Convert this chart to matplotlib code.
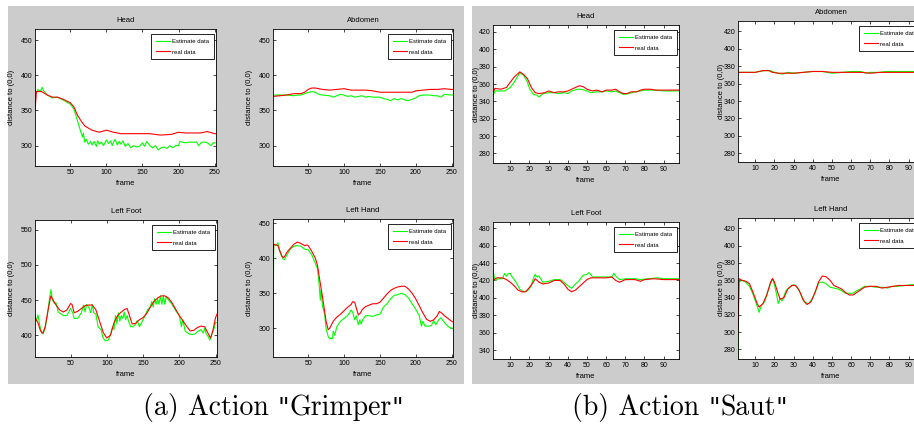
import matplotlib
matplotlib.use("Agg")
import matplotlib.pyplot as plt
from matplotlib.patches import Rectangle

plt.rcParams['font.family'] = ['Liberation Sans Narrow', 'Liberation Sans', 'DejaVu Sans']

# ---------------- Panel (a) Action "Grimper" ----------------
a_head_real_x = [1, 3, 10, 18, 25, 32, 40, 50, 55, 60, 65, 70, 80, 90, 100, 110, 120, 140, 160, 175, 190, 200, 210, 230, 240, 250, 252]
a_head_real_y = [350, 377, 377, 372, 369, 369, 366, 361, 355, 343, 335, 328, 322, 319, 322, 319, 317, 317, 317, 315, 316, 319, 318, 318, 320, 317, 317]
a_head_est_x = [1, 3, 5, 8, 11, 13, 18, 25, 32, 40, 50, 55, 60, 65, 67, 68, 70, 72, 75, 78, 80, 83, 86, 88, 90, 93, 96, 100, 103, 106, 108, 110, 112, 115, 118, 120, 123, 126, 130, 134, 138, 142, 146, 150, 153, 156, 160, 164, 168, 172, 176, 180, 184, 188, 192, 196, 200, 202, 205, 210, 215, 220, 225, 228, 232, 236, 240, 245, 248, 252]
a_head_est_y = [379, 376, 380, 377, 383, 378, 372, 368, 369, 365, 359, 352, 335, 318, 312, 318, 305, 309, 302, 306, 301, 306, 299, 307, 302, 305, 300, 308, 303, 307, 300, 305, 309, 301, 306, 302, 307, 299, 303, 297, 300, 298, 299, 304, 299, 306, 300, 297, 300, 294, 297, 298, 296, 300, 297, 300, 300, 306, 305, 304, 305, 305, 305, 300, 305, 305, 304, 300, 304, 304]

a_abd_real_x = [1, 20, 30, 40, 45, 50, 55, 60, 70, 80, 90, 100, 110, 120, 130, 140, 150, 160, 180, 195, 200, 210, 220, 230, 240, 250, 252]
a_abd_real_y = [370, 372, 374, 374, 376, 380, 382, 382, 380, 379, 380, 381, 379, 379, 379, 378, 376, 376, 376, 376, 378, 379, 380, 380, 381, 380, 380]
a_abd_est_x = [1, 10, 20, 30, 35, 40, 45, 55, 60, 65, 70, 80, 85, 90, 95, 100, 105, 110, 115, 120, 125, 130, 135, 140, 150, 155, 160, 165, 170, 175, 180, 185, 190, 195, 200, 205, 210, 220, 225, 230, 235, 240, 250, 252]
a_abd_est_y = [372, 372, 372, 371, 372, 372, 374, 377, 376, 373, 372, 371, 369, 371, 373, 372, 370, 371, 369, 370, 371, 369, 370, 369, 369, 367, 366, 364, 367, 365, 367, 365, 364, 366, 368, 371, 372, 372, 371, 371, 369, 373, 372, 372]

a_foot_real_x = [1, 5, 8, 10, 12, 15, 18, 22, 23, 27, 30, 35, 40, 45, 50, 52, 55, 60, 65, 70, 75, 80, 85, 90, 95, 100, 105, 110, 115, 120, 125, 128, 130, 135, 140, 145, 150, 155, 160, 165, 170, 175, 180, 185, 190, 195, 200, 210, 215, 220, 225, 230, 235, 240, 243, 246, 250, 252]
a_foot_real_y = [425, 418, 408, 404, 403, 412, 430, 452, 456, 448, 443, 436, 433, 436, 445, 444, 432, 434, 438, 442, 443, 443, 436, 420, 404, 396, 400, 418, 428, 433, 437, 438, 432, 416, 417, 422, 425, 431, 440, 448, 453, 456, 456, 453, 446, 437, 428, 413, 406, 407, 411, 413, 412, 402, 396, 405, 425, 430]
a_foot_est_x = [1, 3, 5, 8, 10, 12, 15, 18, 21, 23, 25, 28, 30, 33, 40, 45, 50, 53, 55, 60, 65, 68, 70, 72, 75, 78, 80, 82, 85, 88, 92, 95, 98, 102, 105, 108, 110, 112, 114, 116, 118, 120, 122, 124, 126, 128, 130, 133, 136, 140, 142, 145, 147, 150, 153, 156, 160, 162, 164, 166, 168, 170, 172, 174, 176, 178, 180, 182, 185, 190, 195, 200, 203, 205, 208, 213, 218, 222, 225, 230, 233, 235, 237, 240, 242, 244, 246, 248, 250, 252]
a_foot_est_y = [428, 420, 429, 412, 404, 402, 410, 428, 452, 465, 450, 445, 446, 433, 428, 428, 438, 432, 424, 424, 432, 443, 433, 444, 440, 432, 444, 432, 430, 412, 408, 396, 392, 393, 400, 412, 408, 428, 416, 432, 420, 428, 424, 433, 422, 428, 420, 412, 412, 416, 421, 412, 416, 422, 428, 436, 440, 448, 440, 452, 444, 452, 444, 456, 444, 456, 444, 455, 450, 444, 435, 428, 412, 422, 406, 402, 401, 402, 405, 408, 403, 410, 402, 398, 393, 398, 405, 410, 418, 418]

a_hand_real_x = [1, 2, 5, 8, 10, 13, 15, 17, 20, 25, 30, 35, 40, 45, 48, 50, 55, 60, 63, 66, 70, 75, 78, 80, 85, 90, 95, 100, 105, 110, 112, 115, 118, 120, 123, 125, 130, 135, 140, 145, 150, 155, 160, 165, 170, 175, 180, 185, 190, 195, 200, 205, 210, 215, 220, 225, 230, 233, 236, 240, 245, 250, 252]
a_hand_real_y = [385, 420, 419, 418, 412, 404, 401, 402, 408, 414, 420, 423, 421, 418, 419, 418, 410, 400, 390, 370, 345, 310, 298, 300, 310, 316, 320, 325, 330, 334, 338, 337, 326, 319, 322, 326, 331, 333, 335, 335, 337, 343, 349, 354, 357, 359, 360, 360, 356, 350, 342, 332, 322, 313, 310, 312, 318, 324, 322, 318, 314, 310, 309]
a_hand_est_x = [1, 2, 5, 8, 10, 13, 15, 17, 20, 25, 30, 35, 40, 45, 50, 55, 60, 63, 65, 67, 68, 70, 73, 75, 78, 80, 82, 84, 85, 87, 90, 95, 100, 105, 110, 112, 115, 117, 120, 122, 124, 126, 130, 135, 140, 145, 150, 155, 160, 165, 170, 175, 180, 185, 190, 195, 200, 205, 208, 210, 213, 218, 222, 225, 228, 232, 235, 238, 242, 246, 250, 252]
a_hand_est_y = [270, 420, 418, 422, 411, 403, 399, 398, 404, 413, 417, 418, 417, 413, 412, 405, 393, 385, 366, 340, 355, 332, 320, 300, 288, 285, 286, 285, 296, 290, 302, 310, 314, 318, 326, 323, 312, 318, 305, 312, 306, 312, 318, 318, 317, 319, 320, 330, 335, 342, 347, 348, 350, 348, 343, 335, 327, 318, 303, 310, 303, 303, 304, 311, 305, 312, 315, 311, 306, 302, 300, 300]

# ---------------- Panel (b) Action "Saut" ----------------
b_head_real_x = [1, 2, 5, 8, 10, 12, 15, 17, 19, 21, 23, 25, 28, 30, 33, 35, 38, 40, 43, 46, 48, 50, 53, 55, 58, 60, 63, 65, 67, 69, 71, 73, 76, 78, 80, 83, 86, 90, 95, 98]
b_head_real_y = [350, 355, 354, 356, 362, 368, 374, 371, 366, 356, 350, 349, 350, 352, 350, 351, 351, 352, 355, 358, 357, 354, 352, 353, 351, 353, 353, 354, 351, 349, 349, 351, 351, 353, 354, 354, 353, 353, 353, 353]
b_head_est_x = [1, 2, 4, 7, 10, 12, 15, 17, 19, 20, 22, 24, 25, 27, 30, 33, 35, 38, 40, 42, 45, 47, 50, 52, 55, 58, 60, 63, 65, 67, 69, 72, 75, 78, 80, 85, 90, 95, 98]
b_head_est_y = [346, 352, 352, 352, 356, 362, 373, 370, 362, 355, 348, 347, 345, 349, 350, 350, 349, 350, 349, 352, 354, 354, 352, 350, 351, 351, 352, 351, 352, 350, 348, 349, 351, 352, 353, 353, 352, 352, 352]

b_abd_real_x = [1, 5, 10, 12, 14, 17, 19, 22, 25, 30, 35, 40, 45, 50, 55, 60, 65, 70, 75, 80, 90, 98]
b_abd_real_y = [373, 373, 373, 374, 375, 375, 373, 372, 372, 372, 373, 374, 374, 373, 373, 373, 373, 372, 373, 373, 373, 373]
b_abd_est_x = [1, 10, 12, 15, 18, 20, 24, 27, 30, 35, 40, 45, 50, 55, 60, 65, 68, 70, 75, 78, 85, 90, 98]
b_abd_est_y = [373, 373, 374, 375, 375, 373, 371, 373, 372, 373, 374, 374, 372, 373, 374, 374, 372, 373, 373, 374, 374, 374, 374]

b_foot_real_x = [1, 3, 6, 8, 10, 12, 14, 16, 18, 20, 22, 23, 25, 27, 30, 33, 36, 38, 40, 42, 44, 46, 48, 50, 52, 55, 60, 63, 65, 67, 70, 75, 78, 80, 85, 90, 95, 98]
b_foot_real_y = [420, 423, 423, 421, 418, 414, 409, 407, 407, 412, 418, 422, 418, 416, 417, 420, 420, 416, 410, 407, 409, 413, 417, 421, 423, 423, 423, 424, 420, 418, 421, 421, 419, 421, 422, 421, 421, 421]
b_foot_est_x = [1, 2, 4, 6, 7, 8, 9, 10, 11, 13, 15, 17, 19, 21, 22, 23, 24, 25, 27, 30, 33, 36, 38, 40, 42, 44, 46, 48, 50, 51, 53, 55, 60, 63, 64, 65, 67, 70, 75, 78, 82, 87, 90, 95, 98]
b_foot_est_y = [432, 420, 422, 422, 428, 425, 428, 428, 424, 418, 410, 407, 408, 414, 422, 427, 424, 425, 418, 419, 421, 421, 418, 414, 411, 416, 420, 426, 427, 429, 424, 424, 424, 424, 428, 425, 421, 422, 422, 421, 422, 423, 422, 422, 422]

b_hand_real_x = [1, 1.5, 3, 5, 7, 9, 11, 12, 14, 16, 18, 19, 20, 22, 23, 25, 27, 29, 31, 33, 35, 37, 39, 41, 43, 45, 47, 49, 51, 53, 55, 57, 59, 61, 63, 65, 67, 70, 73, 76, 79, 82, 85, 90, 95, 98]
b_hand_real_y = [300, 362, 360, 359, 356, 345, 333, 329, 333, 343, 358, 362, 358, 344, 338, 340, 350, 354, 354, 348, 337, 332, 335, 345, 358, 365, 364, 360, 354, 352, 350, 346, 343, 343, 346, 349, 352, 353, 353, 351, 352, 353, 354, 354, 354, 354]
b_hand_est_x = [1, 1.5, 3, 5, 7, 9, 11, 12, 13, 15, 17, 19, 20, 21, 22, 23, 24, 26, 28, 30, 32, 34, 36, 38, 40, 42, 43, 45, 47, 49, 51, 53, 55, 57, 59, 61, 63, 65, 67, 70, 73, 76, 79, 81, 84, 88, 92, 95, 98]
b_hand_est_y = [270, 358, 360, 358, 353, 343, 330, 323, 330, 336, 350, 362, 355, 345, 333, 339, 336, 348, 352, 355, 352, 343, 334, 333, 340, 350, 357, 358, 356, 352, 351, 350, 348, 345, 345, 345, 348, 350, 353, 353, 352, 352, 351, 353, 353, 354, 355, 354, 354]

titles = ["Head", "Abdomen", "Left Foot", "Left Hand"]
series_labels = ["Estimate data", "real data"]
a_xticks = [50, 100, 150, 200, 250]
b_xticks = [10, 20, 30, 40, 50, 60, 70, 80, 90]

W, H = 914, 429
fig = plt.figure(figsize=(W / 100, H / 100), dpi=100)

def px_rect(x0, y0, x1, y1):
    return [x0 / W, (H - y1) / H, (x1 - x0) / W, (y1 - y0) / H]

# gray panels (behind the axes)
for x0, x1 in [(8, 464), (472, 914)]:
    fig.patches.append(Rectangle((x0 / W, (H - 384) / H), (x1 - x0) / W, (384 - 6) / H,
                                 transform=fig.transFigure, facecolor='#cccccc',
                                 edgecolor='none', zorder=-10))

panels = [
    ((35, 29, 216, 166), titles[0], a_head_est_x, a_head_est_y, a_head_real_x, a_head_real_y, (1, 252), (271, 466), a_xticks, [300, 350, 400, 450], 4),
    ((273, 29, 453, 166), titles[1], a_abd_est_x, a_abd_est_y, a_abd_real_x, a_abd_real_y, (1, 252), (271, 466), a_xticks, [300, 350, 400, 450], 4),
    ((35, 220, 217, 357), titles[2], a_foot_est_x, a_foot_est_y, a_foot_real_x, a_foot_real_y, (1, 252), (369, 564), a_xticks, [400, 450, 500, 550], 4),
    ((273, 219, 453, 357), titles[3], a_hand_est_x, a_hand_est_y, a_hand_real_x, a_hand_real_y, (1, 252), (259, 456), a_xticks, [300, 350, 400, 450], 4),
    ((493, 25, 679, 163), titles[0], b_head_est_x, b_head_est_y, b_head_real_x, b_head_real_y, (1, 98), (269, 428), b_xticks, list(range(280, 421, 20)), -1),
    ((738, 21, 924, 162), titles[1], b_abd_est_x, b_abd_est_y, b_abd_real_x, b_abd_real_y, (1, 98), (270, 432), b_xticks, list(range(280, 421, 20)), -1),
    ((493, 222, 679, 359), titles[2], b_foot_est_x, b_foot_est_y, b_foot_real_x, b_foot_real_y, (1, 98), (330, 487), b_xticks, list(range(340, 481, 20)), -1),
    ((738, 218, 924, 359), titles[3], b_hand_est_x, b_hand_est_y, b_hand_real_x, b_hand_real_y, (1, 98), (269, 432), b_xticks, list(range(280, 421, 20)), -1),
]

for rect, title, ex, ey, rx, ry, xl, yl, xt, yt, ylpad in panels:
    ax = fig.add_axes(px_rect(*rect))
    ax.plot(ex, ey, color='#00ff00', lw=0.8, label=series_labels[0])
    ax.plot(rx, ry, color='#ff0000', lw=0.8, label=series_labels[1])
    ax.set_xlim(*xl)
    ax.set_ylim(*yl)
    ax.set_xticks(xt)
    ax.set_yticks(yt)
    ax.tick_params(direction='in', length=2.5, width=0.5, labelsize=5, pad=2,
                   top=True, right=True)
    for s in ax.spines.values():
        s.set_linewidth(0.6)
    ax.set_title(title, fontsize=5.5, pad=5)
    ax.set_xlabel("frame", fontsize=5.5, labelpad=3)
    ax.set_ylabel("distance to (0,0)", fontsize=5.5, labelpad=ylpad)
    axw = rect[2] - rect[0]
    axh = rect[3] - rect[1]
    leg = ax.legend(loc='upper right', bbox_to_anchor=(1 - 2 / axw, 1 - 5 / axh),
                    borderaxespad=0, fontsize=4.3, fancybox=False, framealpha=1,
                    edgecolor='black', handlelength=2.4, handletextpad=0.3,
                    borderpad=0.8, labelspacing=0.9)
    leg.get_frame().set_linewidth(0.6)

# captions: Computer Modern text with straight double quotes
cm = ['cmr10', 'DejaVu Serif']
qf = ['DejaVu Serif']
renderer = fig.canvas.get_renderer()

def caption_pieces(x_center_px, pieces):
    texts, widths = [], []
    for s, fam, fs in pieces:
        t = fig.text(0, (H - 415) / H, s, fontsize=fs, family=fam, ha='left', va='baseline')
        texts.append(t)
        widths.append(t.get_window_extent(renderer=renderer).width)
    x = x_center_px - sum(widths) / 2
    for t, w in zip(texts, widths):
        t.set_x(x / W)
        x += w

caption_pieces(273, [('(a) Action ', cm, 20), ('"', qf, 18), ('Grimper', cm, 20), ('"', qf, 18)])
caption_pieces(680, [('(b) Action ', cm, 20), ('"', qf, 18), ('Saut', cm, 20), ('"', qf, 18)])

fig.savefig("out.png", dpi=100)
